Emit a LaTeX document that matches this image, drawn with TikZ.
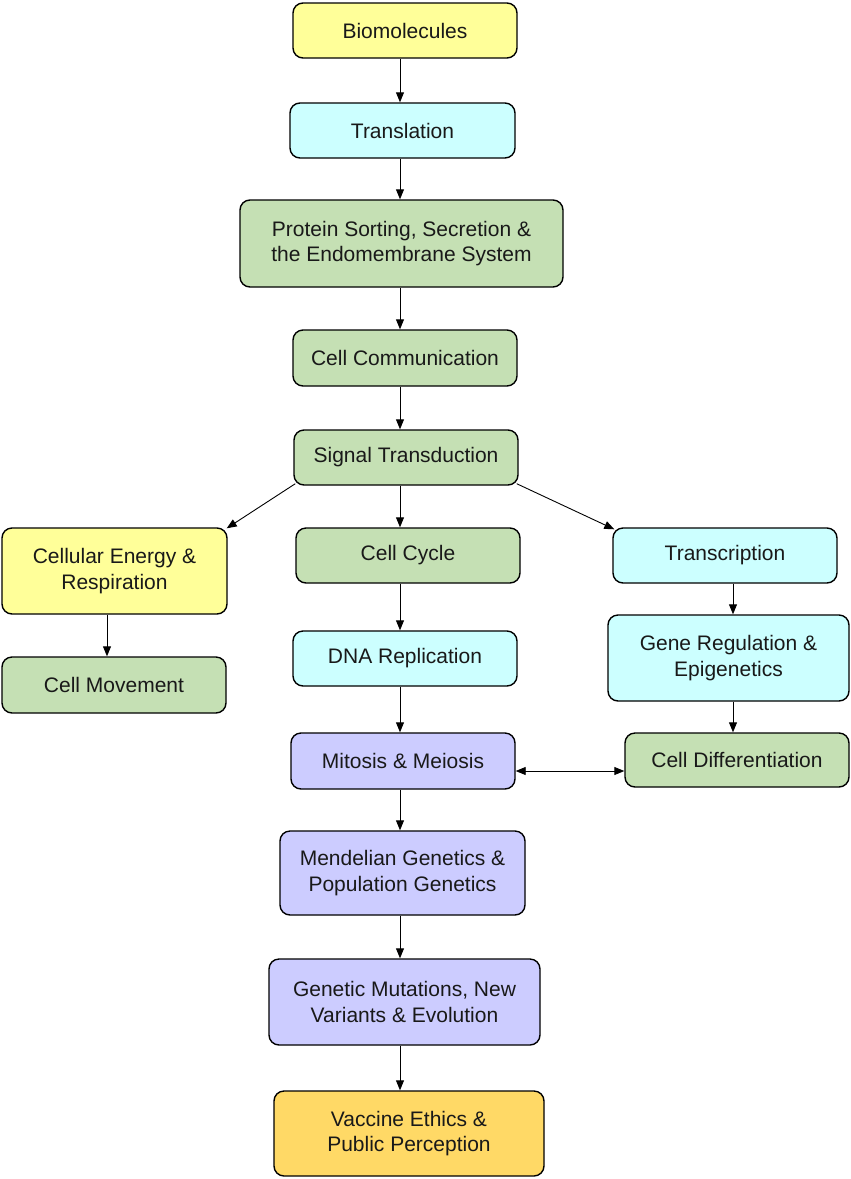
\documentclass[tikz,border=0pt]{standalone}
\usepackage{fontspec}
\setmainfont{Liberation Sans}
\usetikzlibrary{arrows.meta}
\definecolor{cyel}{HTML}{FFFF99}
\definecolor{ccyan}{HTML}{CCFFFF}
\definecolor{cgreen}{HTML}{C5E0B4}
\definecolor{clav}{HTML}{CCCCFF}
\definecolor{cgold}{HTML}{FFD966}
\tikzset{
  box/.style={draw=black, line width=1.4pt, rounded corners=10pt, inner sep=0pt,
    align=center, font=\fontsize{21}{25.5}\selectfont, text=black!90},
  conn/.style={line width=0.9pt, -{Triangle[length=10pt,width=8pt]}},
  conn2/.style={line width=0.9pt, {Triangle[length=10pt,width=8pt]}-{Triangle[length=10pt,width=8pt]}}
}
\begin{document}
\begin{tikzpicture}[x=1pt,y=-1pt]
\useasboundingbox[fill=white] (0,0) rectangle (851,1179);
\node[box, fill=cyel, minimum width=224pt, minimum height=55pt] (bio) at (405,30.5) {Biomolecules};
\node[box, fill=ccyan, minimum width=225pt, minimum height=55pt] (trans) at (402.5,130.5) {Translation};
\node[box, fill=cgreen, minimum width=323pt, minimum height=87pt] (prot) at (401.5,243.5) {Protein Sorting, Secretion \&\\the Endomembrane System};
\node[box, fill=cgreen, minimum width=224pt, minimum height=56pt] (comm) at (405,358) {Cell Communication};
\node[box, fill=cgreen, minimum width=224pt, minimum height=55pt] (sig) at (406,457.5) {Signal Transduction};
\node[box, fill=cyel, minimum width=225pt, minimum height=86pt] (energy) at (114.5,571) {Cellular Energy \&\\Respiration};
\node[box, fill=cgreen, minimum width=224pt, minimum height=55pt] (cycle) at (408,555.5) {Cell Cycle};
\node[box, fill=ccyan, minimum width=224pt, minimum height=55pt] (transc) at (725,555.5) {Transcription};
\node[box, fill=cgreen, minimum width=224pt, minimum height=56pt] (move) at (114,685) {Cell Movement};
\node[box, fill=ccyan, minimum width=224pt, minimum height=55pt] (dna) at (405,658.5) {DNA Replication};
\node[box, fill=ccyan, minimum width=241pt, minimum height=86pt] (gene) at (728.5,658) {Gene Regulation \&\\Epigenetics};
\node[box, fill=clav, minimum width=224pt, minimum height=56pt] (mit) at (403,761) {Mitosis \& Meiosis};
\node[box, fill=cgreen, minimum width=224pt, minimum height=54pt] (diff) at (737,760) {Cell Differentiation};
\node[box, fill=clav, minimum width=245pt, minimum height=84pt] (mend) at (402.5,873) {Mendelian Genetics \&\\Population Genetics};
\node[box, fill=clav, minimum width=271pt, minimum height=86pt] (mut) at (404.5,1002) {Genetic Mutations, New\\Variants \& Evolution};
\node[box, fill=cgold, minimum width=270pt, minimum height=85pt] (vac) at (409,1133.5) {Vaccine Ethics \&\\Public Perception};
\coordinate (ax) at (400,0);
\coordinate (axl) at (107,0);
\coordinate (axr) at (733,0);
\coordinate (ay) at (0,771);
\draw[conn] (bio.south -| ax) -- (trans.north -| ax);
\draw[conn] (trans.south -| ax) -- (prot.north -| ax);
\draw[conn] (prot.south -| ax) -- (comm.north -| ax);
\draw[conn] (comm.south -| ax) -- (sig.north -| ax);
\draw[conn] (sig.south -| ax) -- (cycle.north -| ax);
\draw[conn] ([shift={(2,-2)}]sig.south west) -- ([shift={(-1,1)}]energy.north east);
\draw[conn] ([shift={(-2,-2)}]sig.south east) -- ([shift={(2,2)}]transc.north west);
\draw[conn] (energy.south -| axl) -- (move.north -| axl);
\draw[conn] (cycle.south -| ax) -- (dna.north -| ax);
\draw[conn] (transc.south -| axr) -- (gene.north -| axr);
\draw[conn] (gene.south -| axr) -- (diff.north -| axr);
\draw[conn] (dna.south -| ax) -- (mit.north -| ax);
\draw[conn2] (mit.east |- ay) -- (diff.west |- ay);
\draw[conn] (mit.south -| ax) -- (mend.north -| ax);
\draw[conn] (mend.south -| ax) -- (mut.north -| ax);
\draw[conn] (mut.south -| ax) -- (vac.north -| ax);
\end{tikzpicture}
\end{document}
